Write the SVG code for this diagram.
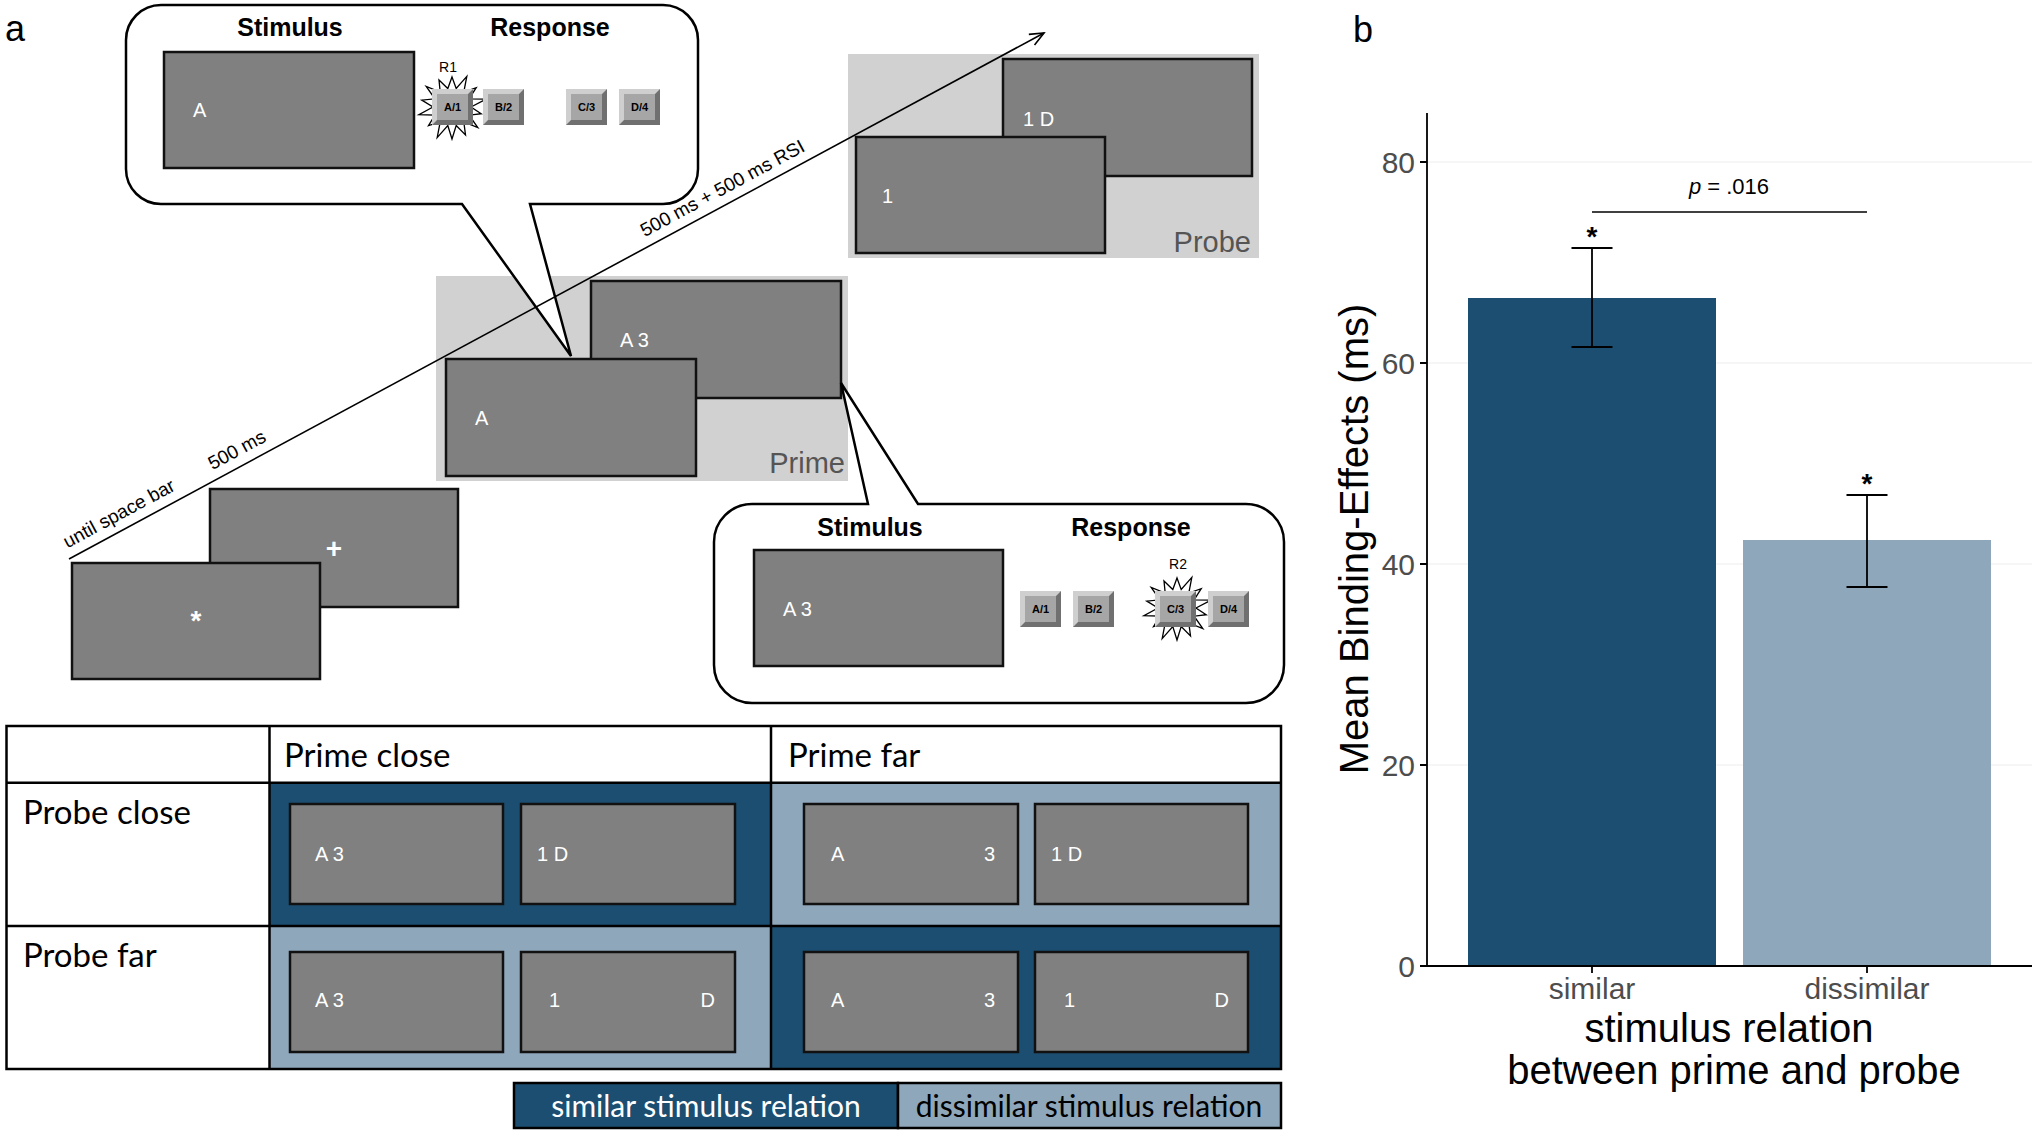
<svg xmlns="http://www.w3.org/2000/svg" xmlns:xlink="http://www.w3.org/1999/xlink" width="2043" height="1136" viewBox="0 0 2043 1136">
<defs>
<style>
.scr{fill:#808080;stroke:#111;stroke-width:2.5}
.st{font-family:"Liberation Sans",Arial,sans-serif;fill:#fff;font-size:20px}
.big{font-family:"Liberation Sans",Arial,sans-serif;fill:#fff;font-size:28px;font-weight:bold;text-anchor:middle}
.hd{font-family:"Liberation Sans",Arial,sans-serif;font-weight:bold;font-size:25px;fill:#000;text-anchor:middle}
.bl{font-family:"Liberation Sans",Arial,sans-serif;font-weight:bold;font-size:11px;fill:#000;text-anchor:middle}
.rl{font-family:"Liberation Sans",Arial,sans-serif;font-size:14px;fill:#000;text-anchor:middle}
.bg{fill:#d1d1d1}
.lab{font-family:"Liberation Sans",Arial,sans-serif;font-size:29px;fill:#555;text-anchor:end}
.tl{font-family:"Liberation Sans",Arial,sans-serif;font-size:19px;fill:#000}
.callout{fill:#fff;stroke:#000;stroke-width:2.5;stroke-linejoin:miter}
.tb{font-family:Lato,"Liberation Sans",sans-serif;font-size:33px;fill:#000}
.lg{font-family:Lato,"Liberation Sans",sans-serif;font-size:30px;text-anchor:middle}
.dark{fill:#1b4e70}
.light{fill:#8fa7bb}
.tline{stroke:#000;stroke-width:2.5;fill:none}
.grid{stroke:#eeeeee;stroke-width:1.2}
.tick{font-family:"Liberation Sans",Arial,sans-serif;font-size:30px;fill:#4d4d4d}
.ax{stroke:#000;stroke-width:1.8;fill:none}
.eb{stroke:#000;stroke-width:1.8;fill:none}
.ttl{font-family:"Liberation Sans",Arial,sans-serif;font-size:40px;fill:#000;text-anchor:middle}
.ann{font-family:"Liberation Sans",Arial,sans-serif;font-size:22px;fill:#000;text-anchor:middle}
.ast{font-family:"Liberation Sans",Arial,sans-serif;font-size:28px;font-weight:bold;fill:#000;text-anchor:middle}
.panel{font-family:"Liberation Sans",Arial,sans-serif;font-size:36px;fill:#000}
</style>
<g id="btn">
<rect x="0" y="0" width="41" height="36" fill="#707070"/>
<polygon points="0,0 41,0 36,5 5,5 5,31 0,36" fill="#cfcfcf"/>
<rect x="5" y="5" width="31" height="26" fill="#a6a6a6"/>
</g>
<polygon id="star" points="0,-30 4.2,-18.5 14.8,-30.6 11.8,-14.9 24.2,-19.3 17.1,-8.2 34.1,-7.8 19,0 29.2,6.7 17.1,8.2 25.8,20.6 11.8,14.9 13.5,27.9 4.2,18.5 0,32 -4.2,18.5 -14.8,30.6 -11.8,14.9 -23.5,18.7 -17.1,8.2 -33.1,7.6 -19,0 -30.2,-6.9 -17.1,-8.2 -25.8,-20.6 -11.8,-14.9 -13,-27 -4.2,-18.5" fill="#fff" stroke="#000" stroke-width="1.3"/>
<marker id="arr" markerWidth="20" markerHeight="20" refX="15" refY="7" orient="auto" markerUnits="userSpaceOnUse">
<path d="M1,1 L15,7 L1,13" fill="none" stroke="#000" stroke-width="1.6"/>
</marker>
</defs>
<rect x="0" y="0" width="2043" height="1136" fill="#fff"/>

<text class="panel" x="5" y="41">a</text>
<text class="panel" x="1353" y="42">b</text>

<!-- fixation screens -->
<g id="node-fixation">
<rect class="scr" x="210" y="489" width="248" height="118"/>
<text class="big" x="334" y="558">+</text>
<rect class="scr" x="72" y="563" width="248" height="116"/>
<text class="big" x="196" y="630">*</text>
</g>

<!-- prime -->
<g id="node-prime">
<rect class="bg" x="436" y="276" width="412" height="205"/>
<rect class="scr" x="591" y="281" width="250" height="117"/>
<text class="st" x="620" y="347">A 3</text>
<rect class="scr" x="446" y="359" width="250" height="117"/>
<text class="st" x="475" y="425">A</text>
<text class="lab" x="845" y="473">Prime</text>
</g>

<!-- probe -->
<g id="node-probe">
<rect class="bg" x="848" y="54" width="411" height="204"/>
<rect class="scr" x="1003" y="59" width="249" height="117"/>
<text class="st" x="1023" y="126">1 D</text>
<rect class="scr" x="856" y="137" width="249" height="116"/>
<text class="st" x="882" y="203">1</text>
<text class="lab" x="1251" y="252">Probe</text>
</g>

<!-- callout prime -->
<g id="node-callout-prime">
<path class="callout" d="M161,5 H663 A35,35 0 0 1 698,40 V169 A35,35 0 0 1 663,204 H530 L571,356 L462,204 H161 A35,35 0 0 1 126,169 V40 A35,35 0 0 1 161,5 Z"/>
<text class="hd" x="290" y="36">Stimulus</text>
<text class="hd" x="550" y="36">Response</text>
<rect class="scr" x="164" y="52" width="250" height="116"/>
<text class="st" x="193" y="117">A</text>
<text class="rl" x="448" y="72">R1</text>
<use xlink:href="#star" href="#star" transform="translate(452,107)"/>
<use xlink:href="#btn" href="#btn" x="432" y="89"/>
<use xlink:href="#btn" href="#btn" x="483" y="89"/>
<use xlink:href="#btn" href="#btn" x="566" y="89"/>
<use xlink:href="#btn" href="#btn" x="619" y="89"/>
<text class="bl" x="452.5" y="111">A/1</text>
<text class="bl" x="503.5" y="111">B/2</text>
<text class="bl" x="586.5" y="111">C/3</text>
<text class="bl" x="639.5" y="111">D/4</text>
</g>

<!-- callout probe response -->
<g id="node-callout-prime2">
<path class="callout" d="M752,504 H868 L841,383 L918,504 H1246 A38,38 0 0 1 1284,542 V665 A38,38 0 0 1 1246,703 H752 A38,38 0 0 1 714,665 V542 A38,38 0 0 1 752,504 Z"/>
<text class="hd" x="870" y="536">Stimulus</text>
<text class="hd" x="1131" y="536">Response</text>
<rect class="scr" x="754" y="550" width="249" height="116"/>
<text class="st" x="783" y="616">A 3</text>
<text class="rl" x="1178" y="569">R2</text>
<use xlink:href="#btn" href="#btn" x="1020" y="591"/>
<use xlink:href="#btn" href="#btn" x="1073" y="591"/>
<use xlink:href="#star" href="#star" transform="translate(1177,608)"/>
<use xlink:href="#btn" href="#btn" x="1155" y="591"/>
<use xlink:href="#btn" href="#btn" x="1208" y="591"/>
<text class="bl" x="1040.5" y="613">A/1</text>
<text class="bl" x="1093.5" y="613">B/2</text>
<text class="bl" x="1175.5" y="613">C/3</text>
<text class="bl" x="1228.5" y="613">D/4</text>
</g>

<!-- connectors: timeline -->
<g id="connectors">
<line x1="69" y1="559" x2="1044" y2="33" stroke="#000" stroke-width="1.6" marker-end="url(#arr)"/>
<text class="tl" transform="translate(67.6,548.4) rotate(-28.32)">until space bar</text>
<text class="tl" transform="translate(212.5,470.3) rotate(-28.32)">500 ms</text>
<text class="tl" transform="translate(644.8,237.3) rotate(-28.32)">500 ms + 500 ms RSI</text>
</g>

<!-- table -->
<g id="node-table">
<rect class="dark" x="269.5" y="782.7" width="501.5" height="143.3"/>
<rect class="light" x="771" y="782.7" width="510" height="143.3"/>
<rect class="light" x="269.5" y="926" width="501.5" height="143"/>
<rect class="dark" x="771" y="926" width="510" height="143"/>
<rect class="tline" x="6.5" y="726" width="1274.5" height="343"/>
<line class="tline" x1="269.5" y1="726" x2="269.5" y2="1069"/>
<line class="tline" x1="771" y1="726" x2="771" y2="1069"/>
<line class="tline" x1="6.5" y1="782.7" x2="1281" y2="782.7"/>
<line class="tline" x1="6.5" y1="926" x2="1281" y2="926"/>
<text class="tb" x="284" y="767">Prime close</text>
<text class="tb" x="788" y="767">Prime far</text>
<text class="tb" x="23" y="824">Probe close</text>
<text class="tb" x="23" y="967">Probe far</text>
<rect class="scr" x="290" y="804" width="213" height="100"/>
<rect class="scr" x="521" y="804" width="214" height="100"/>
<rect class="scr" x="804" y="804" width="214" height="100"/>
<rect class="scr" x="1035" y="804" width="213" height="100"/>
<rect class="scr" x="290" y="952" width="213" height="100"/>
<rect class="scr" x="521" y="952" width="214" height="100"/>
<rect class="scr" x="804" y="952" width="214" height="100"/>
<rect class="scr" x="1035" y="952" width="213" height="100"/>
<text class="st" x="315" y="861">A 3</text>
<text class="st" x="537" y="861">1 D</text>
<text class="st" x="831" y="861">A</text>
<text class="st" x="995" y="861" text-anchor="end">3</text>
<text class="st" x="1051" y="861">1 D</text>
<text class="st" x="315" y="1007">A 3</text>
<text class="st" x="549" y="1007">1</text>
<text class="st" x="715" y="1007" text-anchor="end">D</text>
<text class="st" x="831" y="1007">A</text>
<text class="st" x="995" y="1007" text-anchor="end">3</text>
<text class="st" x="1064" y="1007">1</text>
<text class="st" x="1229" y="1007" text-anchor="end">D</text>
</g>

<!-- legend -->
<g id="node-legend">
<rect class="dark" x="514" y="1083" width="384" height="45" stroke="#000" stroke-width="2.5"/>
<rect class="light" x="898" y="1083" width="383" height="45" stroke="#000" stroke-width="2.5"/>
<text class="lg" x="706" y="1117" fill="#fff">similar stimulus relation</text>
<text class="lg" x="1089" y="1117" fill="#000">dissimilar stimulus relation</text>
</g>

<!-- chart -->
<g id="node-chart">
<line class="grid" x1="1427" y1="162" x2="2032" y2="162"/>
<line class="grid" x1="1427" y1="363" x2="2032" y2="363"/>
<line class="grid" x1="1427" y1="564" x2="2032" y2="564"/>
<line class="grid" x1="1427" y1="765" x2="2032" y2="765"/>
<rect class="dark" x="1468" y="298" width="248" height="668"/>
<rect class="light" x="1743" y="540" width="248" height="426"/>
<path class="eb" d="M1592,248 V347 M1571.5,248 H1612.5 M1571.5,347 H1612.5"/>
<path class="eb" d="M1867,495 V587 M1846.5,495 H1887.5 M1846.5,587 H1887.5"/>
<text class="ast" x="1592" y="246">*</text>
<text class="ast" x="1867" y="493">*</text>
<line x1="1592" y1="212" x2="1867" y2="212" stroke="#000" stroke-width="1.3"/>
<text class="ann" x="1729" y="194"><tspan font-style="italic">p</tspan> = .016</text>
<path class="ax" d="M1427,113 V966 H2032"/>
<path class="ax" d="M1420,966 H1427 M1420,765 H1427 M1420,564 H1427 M1420,363 H1427 M1420,162 H1427 M1592,966 V973 M1867,966 V973"/>
<text class="tick" x="1415" y="977" text-anchor="end">0</text>
<text class="tick" x="1415" y="776" text-anchor="end">20</text>
<text class="tick" x="1415" y="575" text-anchor="end">40</text>
<text class="tick" x="1415" y="374" text-anchor="end">60</text>
<text class="tick" x="1415" y="173" text-anchor="end">80</text>
<text class="tick" x="1592" y="999" text-anchor="middle">similar</text>
<text class="tick" x="1867" y="999" text-anchor="middle">dissimilar</text>
<text class="ttl" x="1729" y="1042">stimulus relation</text>
<text class="ttl" x="1734" y="1084">between prime and probe</text>
<text class="ttl" transform="translate(1368,539) rotate(-90)">Mean Binding-Effects (ms)</text>
</g>
</svg>
